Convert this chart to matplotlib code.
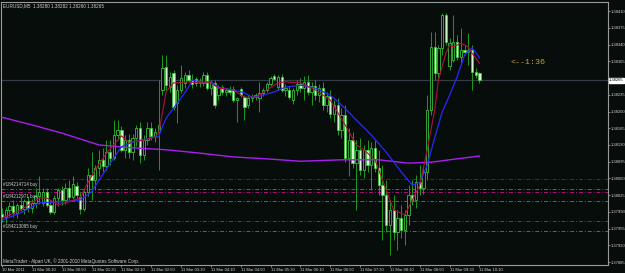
import matplotlib
matplotlib.use('Agg')
import matplotlib.pyplot as plt
import matplotlib.transforms as mtransforms
import numpy as np

# ==========================================
# DATA  (EURUSD M5, 10 Mar 23:30 -> 11 Mar 10:10)
# ==========================================
opens = [1.37986, 1.37980, 1.37994, 1.38002, 1.37988, 1.38005, 1.37996, 1.38013, 1.37998, 1.38009,
         1.38023, 1.38009, 1.38032, 1.38005, 1.37990, 1.38019, 1.38036, 1.38015, 1.38040, 1.38021,
         1.38044, 1.38021, 1.37996, 1.38032, 1.38067, 1.38057, 1.38082, 1.38099, 1.38086, 1.38115,
         1.38103, 1.38151, 1.38161, 1.38120, 1.38140, 1.38115, 1.38145, 1.38165, 1.38109, 1.38140,
         1.38165, 1.38149, 1.38157, 1.38245, 1.38293, 1.38251, 1.38280, 1.38218, 1.38245, 1.38260,
         1.38276, 1.38266, 1.38268, 1.38260, 1.38260, 1.38276, 1.38249, 1.38260, 1.38234, 1.38251,
         1.38241, 1.38245, 1.38247, 1.38224, 1.38247, 1.38230, 1.38214, 1.38228, 1.38230, 1.38228,
         1.38239, 1.38245, 1.38257, 1.38274, 1.38251, 1.38272, 1.38245, 1.38245, 1.38224, 1.38245,
         1.38257, 1.38249, 1.38262, 1.38241, 1.38253, 1.38234, 1.38249, 1.38214, 1.38232, 1.38195,
         1.38214, 1.38161, 1.38193, 1.38103, 1.38140, 1.38092, 1.38120, 1.38078, 1.38120, 1.38088,
         1.38124, 1.38082, 1.38046, 1.38026, 1.37963, 1.37994, 1.37948, 1.37977, 1.37952, 1.37984,
         1.38026, 1.38015, 1.38053, 1.38040, 1.38074, 1.38203, 1.38335, 1.38280, 1.38333, 1.38402,
         1.38295, 1.38308, 1.38345, 1.38314, 1.38328, 1.38324, 1.38328, 1.38282, 1.38280]
highs = [1.37998, 1.38000, 1.38011, 1.38015, 1.38009, 1.38021, 1.38017, 1.38023, 1.38017, 1.38040,
         1.38065, 1.38040, 1.38040, 1.38015, 1.38026, 1.38040, 1.38044, 1.38051, 1.38057, 1.38065,
         1.38053, 1.38032, 1.38040, 1.38082, 1.38115, 1.38088, 1.38120, 1.38124, 1.38140, 1.38140,
         1.38182, 1.38182, 1.38170, 1.38151, 1.38153, 1.38153, 1.38172, 1.38178, 1.38151, 1.38178,
         1.38178, 1.38165, 1.38266, 1.38318, 1.38318, 1.38282, 1.38287, 1.38255, 1.38297, 1.38282,
         1.38287, 1.38278, 1.38272, 1.38270, 1.38282, 1.38282, 1.38266, 1.38266, 1.38255, 1.38255,
         1.38249, 1.38253, 1.38253, 1.38230, 1.38251, 1.38234, 1.38234, 1.38237, 1.38239, 1.38262,
         1.38249, 1.38262, 1.38274, 1.38278, 1.38276, 1.38278, 1.38257, 1.38253, 1.38249, 1.38266,
         1.38270, 1.38274, 1.38276, 1.38262, 1.38266, 1.38257, 1.38262, 1.38241, 1.38245, 1.38224,
         1.38228, 1.38207, 1.38214, 1.38165, 1.38157, 1.38140, 1.38145, 1.38130, 1.38140, 1.38136,
         1.38140, 1.38120, 1.38088, 1.38057, 1.38015, 1.38026, 1.37994, 1.38005, 1.37994, 1.38046,
         1.38057, 1.38067, 1.38088, 1.38082, 1.38234, 1.38366, 1.38366, 1.38339, 1.38406, 1.38406,
         1.38354, 1.38402, 1.38360, 1.38374, 1.38339, 1.38364, 1.38339, 1.38291, 1.38282]
lows = [1.37969, 1.37967, 1.37982, 1.37980, 1.37977, 1.37992, 1.37986, 1.37990, 1.37988, 1.37998,
        1.38007, 1.38002, 1.38000, 1.37986, 1.37986, 1.38002, 1.38005, 1.38007, 1.38015, 1.38017,
        1.38019, 1.37986, 1.37992, 1.38023, 1.38015, 1.38036, 1.38065, 1.38074, 1.38078, 1.38088,
        1.38099, 1.38140, 1.38115, 1.38103, 1.38103, 1.38099, 1.38128, 1.38092, 1.38099, 1.38130,
        1.38140, 1.38136, 1.38078, 1.38234, 1.38245, 1.38241, 1.38203, 1.38176, 1.38239, 1.38249,
        1.38262, 1.38249, 1.38253, 1.38251, 1.38253, 1.38245, 1.38234, 1.38207, 1.38224, 1.38234,
        1.38232, 1.38234, 1.38220, 1.38178, 1.38230, 1.38182, 1.38207, 1.38220, 1.38224, 1.38199,
        1.38232, 1.38241, 1.38253, 1.38266, 1.38245, 1.38241, 1.38232, 1.38226, 1.38216, 1.38234,
        1.38241, 1.38224, 1.38234, 1.38214, 1.38224, 1.38220, 1.38203, 1.38199, 1.38186, 1.38178,
        1.38151, 1.38145, 1.38094, 1.38065, 1.38082, 1.37994, 1.38067, 1.38061, 1.38074, 1.38036,
        1.38074, 1.38026, 1.37931, 1.37948, 1.37900, 1.37931, 1.37910, 1.37936, 1.37921, 1.37963,
        1.38005, 1.37998, 1.38026, 1.38028, 1.38057, 1.38193, 1.38266, 1.38266, 1.38318, 1.38339,
        1.38287, 1.38303, 1.38308, 1.38301, 1.38318, 1.38297, 1.38245, 1.38270, 1.38260]
closes = [1.37980, 1.37994, 1.38002, 1.37988, 1.38005, 1.37996, 1.38013, 1.37998, 1.38009, 1.38023,
          1.38032, 1.38032, 1.38005, 1.37990, 1.38019, 1.38036, 1.38015, 1.38040, 1.38021, 1.38049,
          1.38026, 1.37996, 1.38032, 1.38067, 1.38057, 1.38082, 1.38099, 1.38086, 1.38115, 1.38103,
          1.38151, 1.38161, 1.38120, 1.38140, 1.38115, 1.38145, 1.38165, 1.38109, 1.38140, 1.38165,
          1.38149, 1.38157, 1.38172, 1.38291, 1.38255, 1.38272, 1.38209, 1.38245, 1.38270, 1.38276,
          1.38266, 1.38257, 1.38260, 1.38264, 1.38276, 1.38249, 1.38262, 1.38214, 1.38251, 1.38241,
          1.38245, 1.38241, 1.38224, 1.38228, 1.38234, 1.38209, 1.38228, 1.38230, 1.38234, 1.38239,
          1.38245, 1.38257, 1.38270, 1.38268, 1.38272, 1.38245, 1.38249, 1.38230, 1.38245, 1.38257,
          1.38249, 1.38262, 1.38241, 1.38253, 1.38234, 1.38249, 1.38214, 1.38232, 1.38195, 1.38214,
          1.38161, 1.38193, 1.38103, 1.38140, 1.38092, 1.38120, 1.38078, 1.38120, 1.38088, 1.38124,
          1.38082, 1.38046, 1.38026, 1.37963, 1.37994, 1.37948, 1.37977, 1.37952, 1.37984, 1.38026,
          1.38015, 1.38053, 1.38040, 1.38074, 1.38203, 1.38335, 1.38280, 1.38333, 1.38402, 1.38345,
          1.38343, 1.38345, 1.38314, 1.38328, 1.38324, 1.38328, 1.38282, 1.38276, 1.38265]

# moving averages (bar index, value)
ma_fast_bars = [0, 5, 10, 12, 15, 17, 21, 23, 25, 28, 32, 34, 38, 41, 42, 43, 44, 46, 47, 50,
                53, 56, 58, 62, 65, 68, 71, 74, 76, 80, 84, 88, 92, 95, 97, 100, 103, 105, 108,
                110, 112, 114, 116, 117, 119, 120, 121, 123, 125, 126, 128]
ma_fast = [1.37977, 1.37994, 1.38019, 1.38019, 1.38005, 1.38009, 1.38019, 1.38051, 1.38078, 1.38113,
           1.38149, 1.38136, 1.38140, 1.38147, 1.38155, 1.38197, 1.38241, 1.38260, 1.38260, 1.38262,
           1.38260, 1.38260, 1.38249, 1.38245, 1.38230, 1.38230, 1.38245, 1.38260, 1.38262, 1.38260,
           1.38245, 1.38224, 1.38172, 1.38130, 1.38120, 1.38099, 1.38036, 1.37994, 1.37984,
           1.38015, 1.38046, 1.38120, 1.38203, 1.38266, 1.38322, 1.38339, 1.38335, 1.38343, 1.38335,
           1.38322, 1.38301]

ma_slow_bars = [0, 5, 10, 16, 21, 24, 28, 32, 35, 40, 42, 43, 44, 46, 48, 50, 51, 53, 56, 58,
                62, 65, 67, 69, 73, 76, 80, 84, 88, 91, 95, 99, 103, 107, 110, 112, 114, 116,
                118, 120, 122, 124, 126, 127, 128]
ma_slow = [1.37973, 1.37988, 1.38009, 1.38011, 1.38015, 1.38032, 1.38080, 1.38126, 1.38136, 1.38145,
           1.38147, 1.38168, 1.38186, 1.38207, 1.38228, 1.38251, 1.38266, 1.38262, 1.38262, 1.38251,
           1.38245, 1.38239, 1.38230, 1.38232, 1.38241, 1.38251, 1.38255, 1.38249, 1.38234, 1.38214,
           1.38182, 1.38151, 1.38115, 1.38074, 1.38046, 1.38051, 1.38088, 1.38145,
           1.38199, 1.38234, 1.38272, 1.38318, 1.38333, 1.38324, 1.38312]

ma_long_bars = [0, 8, 16, 26, 35, 44, 53, 62, 71, 80, 91, 101, 109, 115, 120, 128]
ma_long = [1.38188, 1.38172, 1.38155, 1.38130, 1.38124, 1.38120, 1.38113, 1.38105, 1.38101, 1.38096,
           1.38099, 1.38099, 1.38092, 1.38094, 1.38099, 1.38107]

# trade lines
order_labels = ['#184214714 buy', '#184212971 buy', '#184213095 buy']
order_prices = [1.38038, 1.38013, 1.37950]
stop_prices = [1.38059, 1.38032, 1.37971]

price_ticks = [1.37885, 1.37920, 1.37955, 1.37990, 1.38025, 1.38060, 1.38095, 1.38130,
               1.38165, 1.38200, 1.38235, 1.38305, 1.38340, 1.38375, 1.38410]
current_price = 1.38265

time_labels = ['10 Mar 2011', '11 Mar 00:10', '11 Mar 00:50', '11 Mar 01:30', '11 Mar 02:10',
               '11 Mar 02:50', '11 Mar 03:30', '11 Mar 04:10', '11 Mar 04:50', '11 Mar 05:30',
               '11 Mar 06:10', '11 Mar 06:50', '11 Mar 07:30', '11 Mar 08:10', '11 Mar 08:50',
               '11 Mar 09:30', '11 Mar 10:10']
bars_per_label = 8

header = 'EURUSD,M5  1.38280 1.38282 1.38260 1.38265'
countdown = '<--1:36'
footer = 'MetaTrader - Alpari UK, \u00a9 2001-2010 MetaQuotes Software Corp.'

# ==========================================
# STYLE
# ==========================================
BG = '#070d0a'
FRAME = '#9a9a9a'
TXT = '#d0d0d0'
WICK = '#1f9a1f'
EDGE = '#3ccc3c'
BEAR_FILL = '#d2f7cc'
plt.rcParams['font.family'] = ['Liberation Sans', 'DejaVu Sans']

W, H = 625, 273
fig = plt.figure(figsize=(W / 100, H / 100), dpi=100)
fig.patch.set_facecolor(BG)
ax = fig.add_axes([1 / W, (H - 265) / H, 607 / W, 263 / H])
ax.set_facecolor(BG)

n = len(opens)
x = np.arange(n)
o = np.array(opens); h = np.array(highs); l = np.array(lows); c = np.array(closes)

ax.set_xlim(-0.27, -0.27 + 607 / 3.73)
ax.set_ylim(1.37879, 1.38429)

# current price line
ax.axhline(current_price, color='#343a46', linewidth=0.9, zorder=1)

# order / stop lines
for p in order_prices:
    ax.axhline(p, color='#2c8a2c', linewidth=0.7, linestyle=(0, (4, 2, 1, 2)), zorder=1)
for k, p in enumerate(stop_prices):
    col = '#7a1a2a' if k == 0 else '#b0107a'
    ax.axhline(p, color=col, linewidth=0.7, linestyle=(0, (4, 2, 1, 2)), zorder=1)
blend = mtransforms.blended_transform_factory(ax.transAxes, ax.transData)
for lab, p in zip(order_labels, order_prices):
    ax.text(0.004, p + 0.00004, lab, transform=blend, color=TXT, fontsize=3.3,
            va='bottom', ha='left', zorder=6)

# candles
ax.vlines(x, l, h, color=WICK, linewidth=0.7, zorder=3)
up = c >= o
bottom = np.minimum(o, c)
height = np.maximum(np.abs(c - o), 0.000012)
ax.bar(x[up], height[up], bottom=bottom[up], width=0.62, color=BG,
       edgecolor=EDGE, linewidth=0.55, zorder=4)
ax.bar(x[~up], height[~up], bottom=bottom[~up], width=0.62, color=BEAR_FILL,
       edgecolor=EDGE, linewidth=0.55, zorder=4)

# moving averages
ax.plot(ma_long_bars, ma_long, color='#a81ef0', linewidth=1.0, zorder=5)
ax.plot(ma_slow_bars, ma_slow, color='#2828ff', linewidth=0.9, zorder=6)
ax.plot(ma_fast_bars, ma_fast, color='#b0103c', linewidth=0.8, zorder=6)

# axes styling
for side in ['left', 'top', 'right', 'bottom']:
    ax.spines[side].set_color(FRAME)
    ax.spines[side].set_linewidth(0.8)
ax.yaxis.tick_right()
ax.set_yticks(price_ticks)
ax.set_yticklabels(['%.5f' % p for p in price_ticks])
ax.set_xticks([k * bars_per_label for k in range(len(time_labels))])
ax.set_xticklabels(time_labels, ha='left')
ax.tick_params(axis='both', colors=FRAME, labelcolor=TXT, labelsize=3.0,
               length=1.6, width=0.6, pad=0.6, direction='out')

# current price label
ax.text(1.002, current_price, '%.5f' % current_price, transform=blend, fontsize=3.0,
        color='black', va='center', ha='left',
        bbox=dict(boxstyle='square,pad=0.15', facecolor='white', edgecolor='white'), zorder=10,
        clip_on=False)

# texts
fig.text(3 / W, 1 - 6 / H, header, color=TXT, fontsize=3.3, va='center', ha='left')
fig.text(3 / W, 1 - 261 / H, footer, color=TXT, fontsize=3.3, va='center', ha='left')
ax.text(136.2, 1.38303, countdown, color='#c9a032', fontsize=6,
        family=['Liberation Mono', 'DejaVu Sans Mono'], va='center', ha='left', zorder=7)

fig.savefig('out.png', dpi=100, facecolor=BG)
